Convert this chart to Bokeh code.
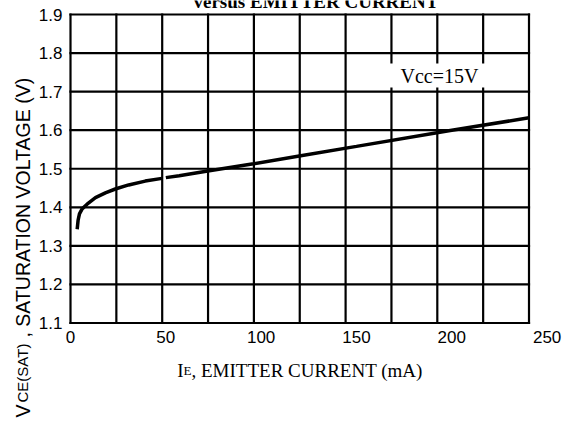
import numpy as np
from bokeh.plotting import figure
from bokeh.models import Range1d, Label, BoxAnnotation
from bokeh.core.properties import value
from bokeh.embed import file_html
from bokeh.resources import INLINE

# ---- data ----
ie_a = [3.5, 4.0, 4.7, 6.1, 8.7, 13.1, 18.3, 23.5, 30.5, 39.2, 48.0]
vce_a = [1.343, 1.367, 1.383, 1.396, 1.408, 1.425, 1.4375, 1.4475, 1.458, 1.468, 1.475]
ie_b = [50.0, 57.0, 72.0, 96.0, 120.0, 150.0, 200.0, 240.5]
vce_b = [1.477, 1.482, 1.494, 1.513, 1.533, 1.558, 1.600, 1.632]

x_ticks = [0, 50, 100, 150, 200, 250]
y_ticks = [1.1, 1.2, 1.3, 1.4, 1.5, 1.6, 1.7, 1.8, 1.9]
y_tick_labels = ["1.1", "1.2", "1.3", "1.4", "1.5", "1.6", "1.7", "1.8", "1.9"]
x_max = 240.5
y_min, y_max = 1.1, 1.9
n_xcols = 10

title_text = "versus EMITTER CURRENT"
note_text = "Vcc=15V"

# ---- layout: the frame fills the canvas; the chart box sits inside it ----
W, H = 562, 424
FL, FR, FT, FB = 70.0, 528.5, 14.0, 322.5   # chart box edges in page px
k = (FR - FL) / x_max                        # px per mA
kv = (FB - FT) / (y_max - y_min)             # px per V


def dx(px):
    return (px - FL) / k


def dy(py):
    return y_max - (py - FT) / kv


p = figure(width=W, height=H,
           x_range=Range1d(-FL / k, x_max + (W - FR) / k),
           y_range=Range1d(y_min - (H - FB) / kv, y_max + FT / kv),
           output_backend="svg", toolbar_location=None,
           x_axis_location=None, y_axis_location=None,
           min_border=0, min_border_left=0, min_border_right=0,
           min_border_top=0, min_border_bottom=0)
p.background_fill_color = "white"
p.border_fill_color = "white"
p.outline_line_color = None
p.grid.visible = False

# grid box (vertical and horizontal rules incl. the border)
gx = np.linspace(0, x_max, n_xcols + 1)
p.segment(x0=gx, y0=[y_min] * len(gx), x1=gx, y1=[y_max] * len(gx),
          line_color="black", line_width=2.2, line_cap="square")
p.segment(x0=[0] * len(y_ticks), y0=y_ticks, x1=[x_max] * len(y_ticks), y1=y_ticks,
          line_color="black", line_width=2.2, line_cap="square")

# curve
p.line(ie_a, vce_a, line_width=3.5, line_color="black")
p.line(ie_b, vce_b, line_width=3.5, line_color="black")

# tick labels
p.text(x=[dx(62)] * len(y_ticks), y=y_ticks, text=y_tick_labels,
       text_align="right", text_baseline="middle",
       text_font=value("Liberation Sans"), text_font_size="17px", text_color="black")
p.text(x=x_ticks, y=[dy(330)] * len(x_ticks), text=[str(v) for v in x_ticks],
       text_align="center", text_baseline="top",
       text_font=value("Liberation Sans"), text_font_size="17px", text_color="black")

# Vcc note with white box
p.add_layout(BoxAnnotation(left=dx(386), right=dx(492), top=dy(63), bottom=dy(87),
                           fill_color="white", fill_alpha=1.0, line_color=None))
p.add_layout(Label(x=dx(439), y=dy(75), text=note_text, text_align="center",
                   text_baseline="middle", text_font="Liberation Serif",
                   text_font_size="20px", text_color="black"))

# x axis label: I + small E + rest
xl_base = dy(370)
x0 = 176.7
p.add_layout(Label(x=dx(x0), y=xl_base, text="I", text_align="left", text_baseline="alphabetic",
                   text_font="Liberation Serif", text_font_size="19px", text_color="black"))
p.add_layout(Label(x=dx(x0 + 6.3), y=xl_base, text="E", text_align="left",
                   text_baseline="alphabetic", text_font="Liberation Serif",
                   text_font_size="13px", text_color="black"))
p.add_layout(Label(x=dx(x0 + 14.3), y=xl_base, text=", EMITTER CURRENT (mA)", text_align="left",
                   text_baseline="alphabetic", text_font="Liberation Serif",
                   text_font_size="19px", text_color="black"))

# y axis label (rotated): V + small CE(SAT) + rest
yl_x = dx(22)
p.add_layout(Label(x=yl_x, y=dy(417), text="V", angle=np.pi / 2, text_align="left",
                   text_baseline="alphabetic", text_font="Liberation Sans",
                   text_font_size="19.5px", text_color="black"))
p.add_layout(Label(x=yl_x, y=dy(402), text="CE(SAT)", angle=np.pi / 2, text_align="left",
                   text_baseline="alphabetic", text_font="Liberation Sans",
                   text_font_size="15px", text_color="black"))
p.add_layout(Label(x=yl_x, y=dy(337), text=", SATURATION VOLTAGE (V)", angle=np.pi / 2,
                   text_align="left", text_baseline="alphabetic", text_font="Liberation Sans",
                   text_font_size="19.5px", text_color="black"))

# title (cut off at the top, as in reference)
p.add_layout(Label(x=dx(193), y=dy(1), text=title_text, text_align="left",
                   text_baseline="alphabetic", text_font="Liberation Serif",
                   text_font_style="bold", text_font_size="19px", text_color="black"))

open("out.html", "w").write(file_html(p, INLINE))
